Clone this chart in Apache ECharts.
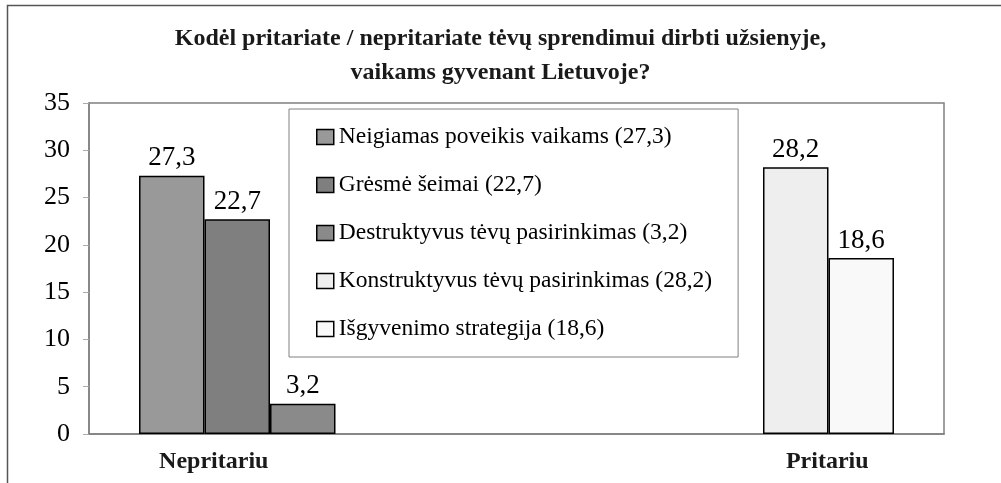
<!DOCTYPE html>
<html>
<head>
    <meta charset="utf-8" />
    <title>Kodėl pritariate / nepritariate</title>
    <script src="https://cdn.jsdelivr.net/npm/echarts@6/dist/echarts.min.js"></script>
    <style>
        html, body {
            margin: 0;
            padding: 0;
            background: #fff;
        }

        #chart {
            width: 1001px;
            height: 483px;
        }
    </style>
</head>
<body>
    <div id="chart"></div>
    <script type="text/javascript">
        // data
        var categories = ['Nepritariu', 'Pritariu'];
        var seriesNames = [
            'Neigiamas poveikis vaikams',
            'Grėsmė šeimai',
            'Destruktyvus tėvų pasirinkimas',
            'Konstruktyvus tėvų pasirinkimas',
            'Išgyvenimo strategija'
        ];
        var neigiamas = [27.3, null];
        var gresme = [22.7, null];
        var destruktyvus = [3.2, null];
        var konstruktyvus = [null, 28.2];
        var isgyvenimo = [null, 18.6];
        var yTicks = [0, 5, 10, 15, 20, 25, 30, 35];

        var seriesValues = [neigiamas, gresme, destruktyvus, konstruktyvus, isgyvenimo];
        var seriesColors = ['#999999', '#7f7f7f', '#8a8a8a', '#eeeeee', '#f9f9f9'];
        var serif = '"Liberation Serif", "Times New Roman", serif';

        function comma(v) {
            return String(v).replace('.', ',');
        }

        function ownValue(arr) {
            for (var i = 0; i < arr.length; i++) {
                if (arr[i] != null) return arr[i];
            }
            return null;
        }

        var series = seriesValues.map(function(vals, i) {
            return {
                name: seriesNames[i] + ' (' + comma(ownValue(vals)) + ')',
                type: 'bar',
                data: vals,
                barGap: '0%',
                barCategoryGap: '23.4%',
                itemStyle: {
                    color: seriesColors[i],
                    borderColor: '#000',
                    borderWidth: 1.5
                },
                label: {
                    show: true,
                    position: 'top',
                    distance: 4,
                    fontFamily: serif,
                    fontSize: 27,
                    color: '#000',
                    formatter: function(p) {
                        return comma(p.value);
                    }
                }
            };
        });

        var chart = echarts.init(document.getElementById('chart'), null, {
            renderer: 'canvas'
        });

        var option = {
            backgroundColor: '#fff',
            animation: false,
            title: {
                text: 'Kodėl pritariate / nepritariate tėvų sprendimui dirbti užsienyje,\nvaikams gyvenant Lietuvoje?',
                left: 'center',
                top: 17,
                padding: [5, 0, 5, 7],
                textStyle: {
                    fontFamily: serif,
                    fontWeight: 'bold',
                    fontSize: 24,
                    lineHeight: 34,
                    color: '#1a1a1a'
                }
            },
            graphic: [{
                type: 'rect',
                shape: { x: 7.5, y: 5.5, width: 1010, height: 500 },
                style: { fill: null, stroke: '#555', lineWidth: 1.5 },
                silent: true
            }],
            legend: {
                orient: 'vertical',
                left: 289,
                top: 109,
                padding: [16, 26, 16, 27],
                itemGap: 24,
                itemWidth: 17,
                itemHeight: 15,
                icon: 'rect',
                backgroundColor: '#fff',
                borderColor: '#808080',
                borderWidth: 1,
                itemStyle: {
                    borderColor: '#000',
                    borderWidth: 1.5
                },
                textStyle: {
                    fontFamily: serif,
                    fontSize: 23.5,
                    lineHeight: 24,
                    color: '#000'
                }
            },
            grid: {
                left: 89,
                right: 57,
                top: 103,
                bottom: 49,
                show: true,
                borderColor: '#808080',
                borderWidth: 1.5
            },
            xAxis: {
                type: 'category',
                data: categories,
                axisLine: { lineStyle: { color: '#808080', width: 1.5 } },
                axisTick: { length: 8, lineStyle: { color: '#aaa' } },
                axisLabel: {
                    margin: 16,
                    formatter: function(v, i) {
                        return i === 0 ? '{l|' + v + '}' : '{r|' + v + '}';
                    },
                    rich: {
                        l: {
                            fontFamily: serif, fontWeight: 'bold', fontSize: 24, color: '#1a1a1a',
                            padding: [0, 178, 0, 0]
                        },
                        r: {
                            fontFamily: serif, fontWeight: 'bold', fontSize: 24, color: '#1a1a1a',
                            padding: [0, 0, 0, 194]
                        }
                    }
                }
            },
            yAxis: {
                type: 'value',
                min: yTicks[0],
                max: yTicks[yTicks.length - 1],
                interval: yTicks[1] - yTicks[0],
                splitLine: { show: false },
                axisLine: { show: true, lineStyle: { color: '#808080', width: 1.5 } },
                axisTick: { show: true, length: 6, lineStyle: { color: '#aaa' } },
                axisLabel: {
                    margin: 19,
                    fontFamily: serif,
                    fontSize: 26,
                    color: '#000'
                }
            },
            series: series
        };

        chart.setOption(option);
    </script>
</body>
</html>
